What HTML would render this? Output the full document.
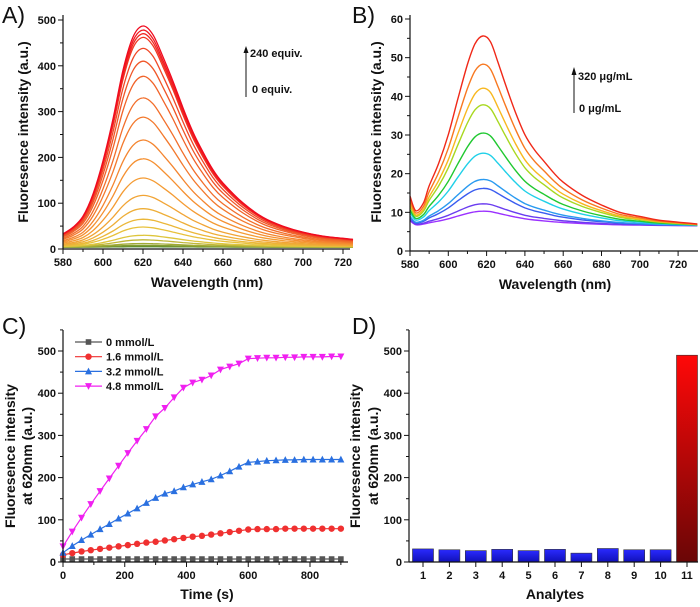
<!DOCTYPE html>
<html><head><meta charset="utf-8">
<style>
html,body{margin:0;padding:0;background:#fff;}
svg{display:block;font-family:"Liberation Sans",Arial,sans-serif;}
.tk{font-size:11px;font-weight:bold;fill:#111;}
.ttl{font-size:14px;font-weight:bold;fill:#111;}
.pl{font-size:23px;fill:#111;}
.ann{font-size:11px;font-weight:bold;fill:#111;}
</style></head>
<body>
<svg id="fig" width="700" height="607" viewBox="0 0 700 607" xmlns="http://www.w3.org/2000/svg">
<defs>
<linearGradient id="gBlue" x1="0" y1="0" x2="0" y2="1"><stop offset="0" stop-color="#2a2aff"/><stop offset="1" stop-color="#1010b8"/></linearGradient>
<linearGradient id="gRed" x1="0" y1="0" x2="0" y2="1"><stop offset="0" stop-color="#ff0808"/><stop offset="1" stop-color="#6a0606"/></linearGradient>
</defs>
</svg>
<script>
// ---- Panel A data ----
const aWave = [580,585,590,595,600,605,610,615,620,625,630,635,640,645,650,655,660,670,680,690,700,710,720,725];
const aShape = [0.06,0.09,0.14,0.24,0.39,0.58,0.80,0.95,1.0,0.96,0.86,0.75,0.63,0.52,0.43,0.35,0.29,0.20,0.135,0.095,0.068,0.05,0.04,0.035];
const aPeaks = [5,6,8,12,20,30,48,65,88,117,155,197,238,288,330,377,410,438,462,470,478,487];
const aYTicks = [0,100,200,300,400,500];
const aXTicks = [580,600,620,640,660,680,700,720];
// ---- Panel B data ----
const bWave = [580,583,587,590,595,600,605,610,614,618,622,626,630,635,640,645,650,655,660,670,680,690,700,710,730];
const bShape = [0.14,0.08,0.12,0.21,0.33,0.48,0.67,0.85,0.96,1.0,0.97,0.86,0.74,0.6,0.48,0.4,0.34,0.28,0.23,0.16,0.11,0.07,0.05,0.03,0.01];
const bPeaks = [10.3,12.2,16.2,18.5,25.3,30.5,37.8,42.1,48.3,55.6];
const bBase = 6.5;
const bColors = ["#9b30ff","#6a3cf0","#3a5cf0","#2a9af0","#20d0e8","#20c830","#a8d820","#f8b820","#f87820","#f02818"];
const bYTicks = [0,10,20,30,40,50,60];
// ---- Panel C data ----
const cTime = [0,30,60,90,120,150,180,210,240,270,300,330,360,390,420,450,480,510,540,570,600,630,660,690,720,750,780,810,840,870,900];
const c0 = [7,7,7,7,7,7,7,7,7,7,7,7,7,7,7,7,7,7,7,7,7,7,7,7,7,7,7,7,7,7,7];
const c16 = [17,21,25,28,31,34,37,40,43,46,48,51,54,57,60,62,65,68,71,74,77,78,78,78,79,79,79,79,79,79,79];
const c32 = [22,38,52,65,78,90,103,115,127,140,152,162,168,177,184,190,196,205,215,226,236,238,240,241,242,242,243,243,243,243,243];
const c48 = [37,72,105,137,168,198,228,258,287,315,345,365,390,413,425,432,442,456,463,470,482,483,484,484,485,485,486,486,486,487,487];
const cLabels = ["0 mmol/L","1.6 mmol/L","3.2 mmol/L","4.8 mmol/L"];
const cXTicks = [0,200,400,600,800];
// ---- Panel D data ----
const dCats = ["1","2","3","4","5","6","7","8","9","10","11"];
const dVals = [31,29,27,30,27,30,21,32,29,29,490];

const svg = document.getElementById('fig');
const NS = "http://www.w3.org/2000/svg";
function mk(tag, attrs, parent){const e=document.createElementNS(NS,tag);for(const k in attrs)e.setAttribute(k,attrs[k]);(parent||svg).appendChild(e);return e;}
function txt(s,x,y,cls,anchor,parent){const t=mk('text',{x:x,y:y,'class':cls,'text-anchor':anchor||'middle'},parent);t.textContent=s;return t;}

function axes(g, X0, X1, Y0, Y1, xs, ys, xTicks, xMinor, yTicks, yMinor, xFmt){
  mk('line',{x1:X0,y1:Y1,x2:X0,y2:Y0+0.5,stroke:'#111','stroke-width':1.2},g);
  mk('line',{x1:X0,y1:Y0,x2:X1,y2:Y0,stroke:'#111','stroke-width':1.2},g);
  xTicks.forEach(v=>{const x=xs(v);mk('line',{x1:x,y1:Y0,x2:x,y2:Y0+5,stroke:'#111','stroke-width':1},g);const t=txt(xFmt?xFmt(v):String(v),x,Y0+17,'tk','middle',g);});
  xMinor.forEach(v=>{const x=xs(v);mk('line',{x1:x,y1:Y0,x2:x,y2:Y0+3,stroke:'#111','stroke-width':1},g);});
  yTicks.forEach(v=>{const y=ys(v);mk('line',{x1:X0-5,y1:y,x2:X0,y2:y,stroke:'#111','stroke-width':1},g);const t=txt(String(v),X0-7,y+4,'tk','end',g);});
  yMinor.forEach(v=>{const y=ys(v);mk('line',{x1:X0-3,y1:y,x2:X0,y2:y,stroke:'#111','stroke-width':1},g);});
}
function lerpColor(stops, t){
  const n=stops.length-1;const i=Math.min(n-1,Math.floor(t*n));const f=t*n-i;
  const a=stops[i],b=stops[i+1];
  return 'rgb('+a.map((c,k)=>Math.round(c+(b[k]-c)*f)).join(',')+')';
}
function smoothPath(pts){
  let d='M'+pts[0][0].toFixed(1)+','+pts[0][1].toFixed(1);
  for(let i=0;i<pts.length-1;i++){
    const p0=pts[Math.max(0,i-1)],p1=pts[i],p2=pts[i+1],p3=pts[Math.min(pts.length-1,i+2)];
    const c1=[p1[0]+(p2[0]-p0[0])/6,p1[1]+(p2[1]-p0[1])/6];
    const c2=[p2[0]-(p3[0]-p1[0])/6,p2[1]-(p3[1]-p1[1])/6];
    d+=' C'+c1[0].toFixed(1)+','+c1[1].toFixed(1)+' '+c2[0].toFixed(1)+','+c2[1].toFixed(1)+' '+p2[0].toFixed(1)+','+p2[1].toFixed(1);
  }
  return d;
}

// ===== Panel A =====
(function(){
  const g=mk('g',{});
  
  
  const X0=63,X1=350,Y0=249,Y1=15;
  const xs=v=>63+(v-580)*2.0;
  const ys=v=>249-v*(229/500);
  const stops=[[70,130,40],[230,200,60],[245,150,50],[240,90,40],[240,10,30]];
  aPeaks.forEach((pk,i)=>{
    const base=4;
    const pts=aWave.map((w,j)=>[xs(w),ys(base+(pk-base)*aShape[j])]);
    const p=mk('path',{d:smoothPath(pts),fill:'none',stroke:lerpColor(stops,i/(aPeaks.length-1)),'stroke-width':1.3},g);
    
    
  });
  const xMinor=[590,610,630,650,670,690,710];
  const yMinor=[50,150,250,350,450];
  axes(g,X0,X1,Y0,Y1,xs,ys,aXTicks,xMinor,aYTicks,yMinor);
  let t=txt('Wavelength (nm)',207,287,'ttl','middle',g);
  t=txt('Fluoresence intensity (a.u.)',0,0,'ttl','middle',g);t.setAttribute('transform','translate(28,132) rotate(-90)');
  t=txt('A)',2,23,'pl','start',g);
  mk('line',{x1:246,y1:97,x2:246,y2:52,stroke:'#111','stroke-width':1},g);
  mk('polygon',{points:'243.5,53 248.5,53 246,46',fill:'#111'},g);
  t=txt('240 equiv.',250,57,'ann','start',g);
  t=txt('0 equiv.',252,93,'ann','start',g);
})();

// ===== Panel B =====
(function(){
  const g=mk('g',{});
  
  
  const X0=410,X1=698,Y0=251,Y1=15;
  const xs=v=>410+(v-580)*1.915;
  const ys=v=>251-v*(232/60);
  bPeaks.forEach((pk,i)=>{
    const amp=pk-bBase;
    const pts=bWave.map((w,j)=>[xs(w),ys(bBase+amp*bShape[j]+(j===0?0.8:0))]);
    const p=mk('path',{d:smoothPath(pts),fill:'none',stroke:bColors[i],'stroke-width':1.4},g);
    
    
  });
  const xMinor=[590,610,630,650,670,690,710];
  const yMinor=[5,15,25,35,45,55];
  axes(g,X0,X1,Y0,Y1,xs,ys,[580,600,620,640,660,680,700,720],xMinor,bYTicks,yMinor);
  let t=txt('Wavelength (nm)',555,289,'ttl','middle',g);
  t=txt('Fluoresence intensity (a.u.)',0,0,'ttl','middle',g);t.setAttribute('transform','translate(381,132) rotate(-90)');
  t=txt('B)',352,23,'pl','start',g);
  mk('line',{x1:574,y1:113,x2:574,y2:74,stroke:'#111','stroke-width':1},g);
  mk('polygon',{points:'571.5,75 576.5,75 574,67',fill:'#111'},g);
  t=txt('320 μg/mL',578,80,'ann','start',g);
  t=txt('0 μg/mL',579,112,'ann','start',g);
})();

// ===== Panel C =====
(function(){
  const g=mk('g',{});
  
  
  const X0=63,X1=348,Y0=562,Y1=330;
  const xs=v=>63+v*(247/800);
  const ys=v=>562-v*(211/500);
  const series=[c0,c16,c32,c48];
  const cols=['#555555','#f03030','#2a70e0','#f020f0'];
  const marks=['sq','ci','up','dn'];
  function marker(kind,x,y,col,par){
    let e;
    if(kind==='sq') e=mk('rect',{x:x-2.8,y:y-2.8,width:5.6,height:5.6,fill:col},par);
    else if(kind==='ci') e=mk('circle',{cx:x,cy:y,r:3.2,fill:col},par);
    else if(kind==='up') e=mk('polygon',{points:(x-3.5)+','+(y+3)+' '+(x+3.5)+','+(y+3)+' '+x+','+(y-3.8),fill:col},par);
    else e=mk('polygon',{points:(x-3.5)+','+(y-3)+' '+(x+3.5)+','+(y-3)+' '+x+','+(y+3.8),fill:col},par);
    
    
  }
  series.forEach((s,k)=>{
    const d=s.map((v,i)=>(i?'L':'M')+xs(cTime[i]).toFixed(1)+','+ys(v).toFixed(1)).join(' ');
    const p=mk('path',{d:d,fill:'none',stroke:cols[k],'stroke-width':1.2},g);
    
    
    s.forEach((v,i)=>marker(marks[k],xs(cTime[i]),ys(v),cols[k],g));
  });
  axes(g,X0,X1,Y0,Y1,xs,ys,cXTicks,[100,300,500,700,900],[0,100,200,300,400,500],[50,150,250,350,450,550]);
  cLabels.forEach((lab,k)=>{
    const y=342+k*14.7;
    const l=mk('line',{x1:75,y1:y,x2:102,y2:y,stroke:cols[k],'stroke-width':1.2},g);
    
    
    marker(marks[k],88.5,y,cols[k],g);
    const t=txt(lab,106,y+4,'ann','start',g);
    
    
  });
  let t=txt('Time (s)',207,599,'ttl','middle',g);
  t=txt('Fluoresence intensity',0,0,'ttl','middle',g);t.setAttribute('transform','translate(15,456) rotate(-90)');
  t=txt('at 620nm (a.u.)',0,0,'ttl','middle',g);t.setAttribute('transform','translate(32,456) rotate(-90)');
  t=txt('C)',2,334,'pl','start',g);
})();

// ===== Panel D =====
(function(){
  const g=mk('g',{});
  
  
  const X0=409,X1=698,Y0=562,Y1=330;
  const xs=i=>423+i*26.4;
  const ys=v=>562-v*(211/500);
  dVals.forEach((v,i)=>{
    const r=mk('rect',{x:xs(i)-10.5,y:ys(v),width:21,height:Y0-ys(v),fill:i===10?'url(#gRed)':'url(#gBlue)',stroke:'#333','stroke-width':0.6},g);
    
    
  });
  axes(g,X0,X1,Y0,Y1,v=>v,ys,[],[],[0,100,200,300,400,500],[50,150,250,350,450,550]);
  dCats.forEach((c,i)=>{
    const x=xs(i);
    mk('line',{x1:x,y1:Y0,x2:x,y2:Y0+5,stroke:'#111','stroke-width':1},g);
    const t=txt(c,x,Y0+17,'tk','middle',g);
    
    
  });
  let t=txt('Analytes',555,599,'ttl','middle',g);
  t=txt('Fluoresence intensity',0,0,'ttl','middle',g);t.setAttribute('transform','translate(360,456) rotate(-90)');
  t=txt('at 620nm (a.u.)',0,0,'ttl','middle',g);t.setAttribute('transform','translate(378,456) rotate(-90)');
  t=txt('D)',352,334,'pl','start',g);
})();
</script>
</body></html>
